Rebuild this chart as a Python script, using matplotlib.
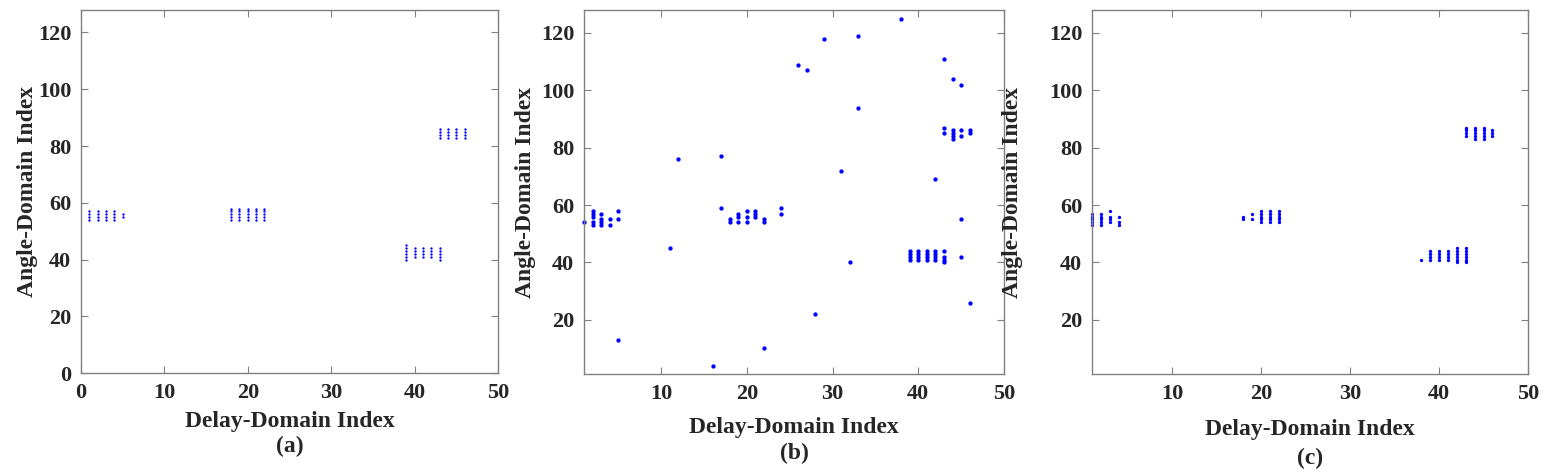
import matplotlib
matplotlib.use("Agg")
import matplotlib.pyplot as plt
import numpy as np

plt.rcParams['font.family'] = ['Liberation Serif', 'DejaVu Serif']
plt.rcParams['font.weight'] = 'bold'

# panel (a): delay index -> list of angle indices
a_cols = [1, 2, 3, 4, 5, 18, 19, 20, 21, 22, 39, 40, 41, 42, 43, 43, 44, 45, 46]
a_rows = [[54, 55, 56, 57], [54, 55, 56, 57], [54, 55, 56, 57], [54, 55, 56, 57], [55, 56],
          [54, 55, 56, 57, 58], [54, 55, 56, 57, 58], [54, 55, 56, 57, 58],
          [54, 55, 56, 57, 58], [54, 55, 56, 57, 58],
          [40, 41, 42, 43, 44, 45], [41, 42, 43, 44], [41, 42, 43, 44], [41, 42, 43, 44],
          [40, 41, 42, 43, 44],
          [83, 84, 85, 86], [83, 84, 85, 86], [83, 84, 85, 86], [83, 84, 85, 86]]

# panel (b)
b_cols = [1, 2, 3, 4, 5, 11, 12, 16, 17, 18, 19, 20, 21, 22, 24, 26, 27, 28, 29, 31,
          32, 33, 38, 39, 40, 41, 42, 43, 44, 45, 46]
b_rows = [[54], [53, 54, 56, 57, 58], [53, 54, 55, 57], [53, 55], [13, 55, 58],
          [45], [76], [4], [59, 77], [54, 55], [54, 56, 57], [54, 56, 58], [56, 57, 58],
          [10, 54, 55], [57, 59], [109], [107], [22], [118], [72],
          [40], [94, 119], [125], [41, 42, 43, 44], [41, 42, 43, 44], [41, 42, 43, 44],
          [41, 42, 43, 44, 69], [40, 41, 42, 44, 85, 87, 111], [83, 84, 85, 86, 104],
          [42, 55, 84, 86, 102], [26, 85, 86]]

# panel (c)
c_cols = [1, 2, 3, 4, 18, 19, 20, 21, 22, 38, 39, 40, 41, 42, 43, 44, 45, 46]
c_rows = [[53, 54, 55, 56, 57], [53, 54, 55, 56, 57], [54, 55, 56, 58], [53, 54, 56],
          [55, 56], [55, 57], [54, 55, 56, 57, 58], [54, 55, 56, 57, 58],
          [54, 55, 56, 57, 58],
          [41], [41, 42, 43, 44], [41, 42, 43, 44], [41, 42, 43, 44],
          [40, 41, 42, 43, 44, 45], [40, 41, 42, 43, 44, 45, 84, 85, 86, 87],
          [83, 84, 85, 86, 87], [83, 84, 85, 86, 87], [84, 85, 86]]

panel_names = ['(a)', '(b)', '(c)']


def expand(cols, rows):
    xs, ys = [], []
    for c, r in zip(cols, rows):
        xs += [c] * len(r)
        ys += r
    return np.array(xs), np.array(ys)


W, H = 1546, 476
fig = plt.figure(figsize=(W / 100, H / 100), dpi=100)

# axes boxes in pixels: left, top, right, bottom
boxes = [(81, 9.7, 498, 373.3), (584, 10, 1004, 374.3), (1092, 10, 1528, 374.3)]
data = [(a_cols, a_rows), (b_cols, b_rows), (c_cols, c_rows)]
msizes = [1.7, 3.1, 2.4]
xlims = [(0, 50), (1, 50), (1, 50)]
ylims = [(0, 128), (1, 128), (1, 128)]
ylab_x = [28, 525, 1013]
xlab_y = [[421, 446], [428, 453], [430, 458]]

txt = '#262626'
for i in range(3):
    l, t, r, b = boxes[i]
    ax = fig.add_axes([l / W, 1 - b / H, (r - l) / W, (b - t) / H])
    x, y = expand(*data[i])
    ax.plot(x, y, linestyle='none', marker='o', ms=msizes[i], mew=0, color='#0000ff',
            clip_on=False)
    ax.set_xlim(*xlims[i])
    ax.set_ylim(*ylims[i])
    ax.set_xticks([0, 10, 20, 30, 40, 50] if i == 0 else [10, 20, 30, 40, 50])
    ax.set_yticks([0, 20, 40, 60, 80, 100, 120] if i == 0 else [20, 40, 60, 80, 100, 120])
    ax.tick_params(direction='in', length=5, width=0.8, color='#808080',
                   top=True, right=True, labelsize=16, labelcolor=txt, pad=7)
    for s in ax.spines.values():
        s.set_color('#808080')
        s.set_linewidth(1.0)
    for lab in ax.get_xticklabels() + ax.get_yticklabels():
        lab.set_fontweight('bold')
    cx = (l + r) / 2 / W
    fig.text(cx, 1 - xlab_y[i][0] / H, 'Delay-Domain Index', ha='center', va='center',
             fontsize=17, fontweight='bold', color=txt)
    fig.text(cx, 1 - xlab_y[i][1] / H, panel_names[i], ha='center', va='center',
             fontsize=17, fontweight='bold', color=txt)
    fig.text(ylab_x[i] / W, 1 - (t + b) / 2 / H, 'Angle-Domain Index', rotation=90,
             ha='center', va='center', fontsize=17, fontweight='bold', color=txt)

fig.savefig('out.png', dpi=100)
